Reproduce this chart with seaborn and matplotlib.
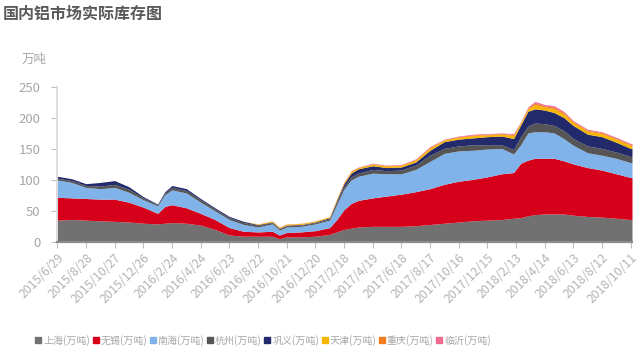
import matplotlib.pyplot as plt
from matplotlib.lines import Line2D
import pandas as pd
import seaborn as sns

sns.set_theme(style='white')
plt.rcParams['font.family'] = ['Noto Sans CJK SC', 'DejaVu Sans']

dates = ['2015-06-29', '2015-07-29', '2015-08-28', '2015-09-27', '2015-10-27',
         '2015-11-26', '2015-12-26', '2016-01-25', '2016-02-09', '2016-02-24',
         '2016-03-25', '2016-04-24', '2016-05-24', '2016-06-23', '2016-07-23',
         '2016-08-22', '2016-09-21', '2016-10-06', '2016-10-21', '2016-11-20',
         '2016-12-20', '2017-01-19', '2017-02-03', '2017-02-18', '2017-03-05',
         '2017-03-20', '2017-04-19', '2017-05-19', '2017-06-18', '2017-07-18',
         '2017-08-17', '2017-09-16', '2017-10-16', '2017-11-15', '2017-12-15',
         '2018-01-14', '2018-02-08', '2018-02-23', '2018-03-10', '2018-03-25',
         '2018-04-14', '2018-05-04', '2018-05-24', '2018-06-13', '2018-07-13',
         '2018-08-12', '2018-09-11', '2018-10-11', '2018-10-14']

shanghai = [35, 36, 35, 34, 33, 32, 30, 29, 30, 31, 30, 27, 20, 11, 9, 9, 9, 5, 8, 8,
            9, 12, 16, 20, 22, 24, 25, 25, 25, 26, 28, 30, 32, 34, 35, 36, 38, 39, 42, 44,
            45, 45, 45, 43, 41, 40, 38, 36, 36]
wuxi = [37, 35, 35, 35, 36, 32, 26, 17, 27, 29, 25, 19, 16, 12, 8, 7, 8, 6, 7, 8,
        9, 11, 20, 32, 40, 43, 46, 49, 52, 55, 58, 63, 66, 67, 70, 74, 74, 88, 90, 91,
        90, 90, 86, 83, 79, 76, 72, 68, 68]
nanhai = [28, 25, 18, 17, 19, 16, 12, 12, 19, 24, 24, 18, 14, 13, 11, 8, 12, 8, 9, 9,
          11, 12, 24, 33, 38, 39, 40, 36, 33, 36, 44, 50, 49, 47, 45, 41, 30, 30, 44, 43,
          43, 41, 36, 30, 24, 24, 25, 24, 24]
hangzhou = [3, 3, 3, 4, 5, 5, 3, 2, 3, 4, 4, 4, 3, 3, 3, 3, 2, 2, 2, 2,
            2, 2, 4, 4, 5, 5, 6, 5, 6, 7, 10, 8, 8, 9, 7, 6, 7, 13, 11, 14,
            13, 12, 13, 11, 11, 11, 10, 10, 10]
gongyi = [3, 3, 3, 6, 6, 4, 2, 1, 2, 3, 3, 2, 2, 2, 2, 1, 1, 1, 1, 1,
          1, 2, 3, 5, 6, 7, 6, 5, 5, 5, 8, 11, 11, 11, 13, 14, 18, 19, 24, 23,
          22, 21, 21, 21, 19, 19, 16, 13, 13]
tianjin = [0, 0, 0, 0, 0, 0, 0, 0, 0, 0, 0, 0, 0, 0, 0, 1, 1.5, 1.5, 1.5, 1.5,
           1.5, 1.5, 2, 2, 2.5, 2, 2.5, 2.5, 2.5, 3, 3.5, 2.5, 3, 3.5, 3, 3, 5, 3, 4, 7,
           5, 6, 6, 5, 5, 5, 5, 5, 5]
chongqing = [0, 0, 0, 0, 0, 0, 0, 0, 0, 0, 0, 0, 0, 0, 0, 0, 0.3, 0.3, 0.3, 0.3,
             0.3, 0.3, 0.5, 0.5, 0.8, 0.5, 0.8, 0.8, 0.8, 1, 1.3, 0.8, 1, 1.3, 1, 1, 1.5, 1, 1.5, 2.5,
             2, 2.5, 2, 1.5, 1.5, 1.5, 1.5, 1.5, 1.5]
linyi = [0, 0, 0, 0, 0, 0, 0, 0, 0, 0, 0, 0, 0, 0, 0, 0, 0.2, 0.2, 0.2, 0.2,
         0.2, 0.2, 0.5, 0.5, 0.7, 0.5, 0.7, 0.7, 0.7, 1, 1.2, 0.7, 1, 1.2, 1, 1, 1.5, 1, 1.5, 2.5,
         2, 2.5, 2, 1.5, 1.5, 1.5, 1.5, 1.5, 1.5]

series_names = ['上海(万吨)', '无锡(万吨)', '南海(万吨)', '杭州(万吨)',
                '巩义(万吨)', '天津(万吨)', '重庆(万吨)', '临沂(万吨)']
colors = ['#717171', '#d7001a', '#7fb3ea', '#555555',
          '#222a6c', '#f5b500', '#f57c1c', '#ef6a8c']

tick_labels = ['2015/6/29', '2015/8/28', '2015/10/27', '2015/12/26', '2016/2/24',
               '2016/4/24', '2016/6/23', '2016/8/22', '2016/10/21', '2016/12/20',
               '2017/2/18', '2017/4/19', '2017/6/18', '2017/8/17', '2017/10/16',
               '2017/12/15', '2018/2/13', '2018/4/14', '2018/6/13', '2018/8/12',
               '2018/10/11']

x = pd.to_datetime(dates)
ticks = pd.to_datetime(tick_labels, format='%Y/%m/%d')

fig = plt.figure(figsize=(6.4, 3.53), dpi=100)
ax = fig.add_axes([0.0895, 0.315, 0.898, 0.438])

ax.stackplot(x, shanghai, wuxi, nanhai, hangzhou, gongyi, tianjin, chongqing, linyi,
             colors=colors, linewidth=0)

ax.set_ylim(0, 250)
ax.set_yticks([0, 50, 100, 150, 200, 250])
ax.set_xlim(x[0], x[-1])
ax.set_xticks(ticks)
ax.set_xticklabels(tick_labels, rotation=45, ha='right', rotation_mode='anchor')

sns.despine(ax=ax, top=True, right=True)
ax.spines['left'].set_color('#d9d9d9')
ax.spines['bottom'].set_color('#8c8c8c')
ax.spines['bottom'].set_linewidth(1.6)
ax.tick_params(axis='y', colors='#bfbfbf', labelsize=9.5, length=4, width=0.8,
               direction='out', left=True, pad=8)
ax.tick_params(axis='x', colors='#bfbfbf', labelsize=8.8, length=4, width=0.8,
               direction='out', bottom=True, pad=3)
for lab in ax.get_xticklabels():
    lab.set_color('#b3b3b3')
for lab in ax.get_yticklabels():
    lab.set_color('#a6a6a6')
ax.grid(False)

fig.text(0.005, 0.96, '国内铝市场实际库存图', fontsize=11.5, fontweight='bold',
         color='#595959', va='center', ha='left')
fig.text(0.034, 0.832, '万吨', fontsize=9, color='#a6a6a6', va='center', ha='left')

handles = [Line2D([0], [0], marker='s', linestyle='none', markersize=5,
                  markerfacecolor=c, markeredgecolor=c) for c in colors]
fig.legend(handles, series_names, loc='center', bbox_to_anchor=(0.411, 0.035),
           ncol=8, frameon=False, fontsize=7.2, handlelength=0.6,
           handletextpad=0.2, columnspacing=0.25, labelcolor='#a6a6a6')

fig.savefig('out.png', dpi=100)
